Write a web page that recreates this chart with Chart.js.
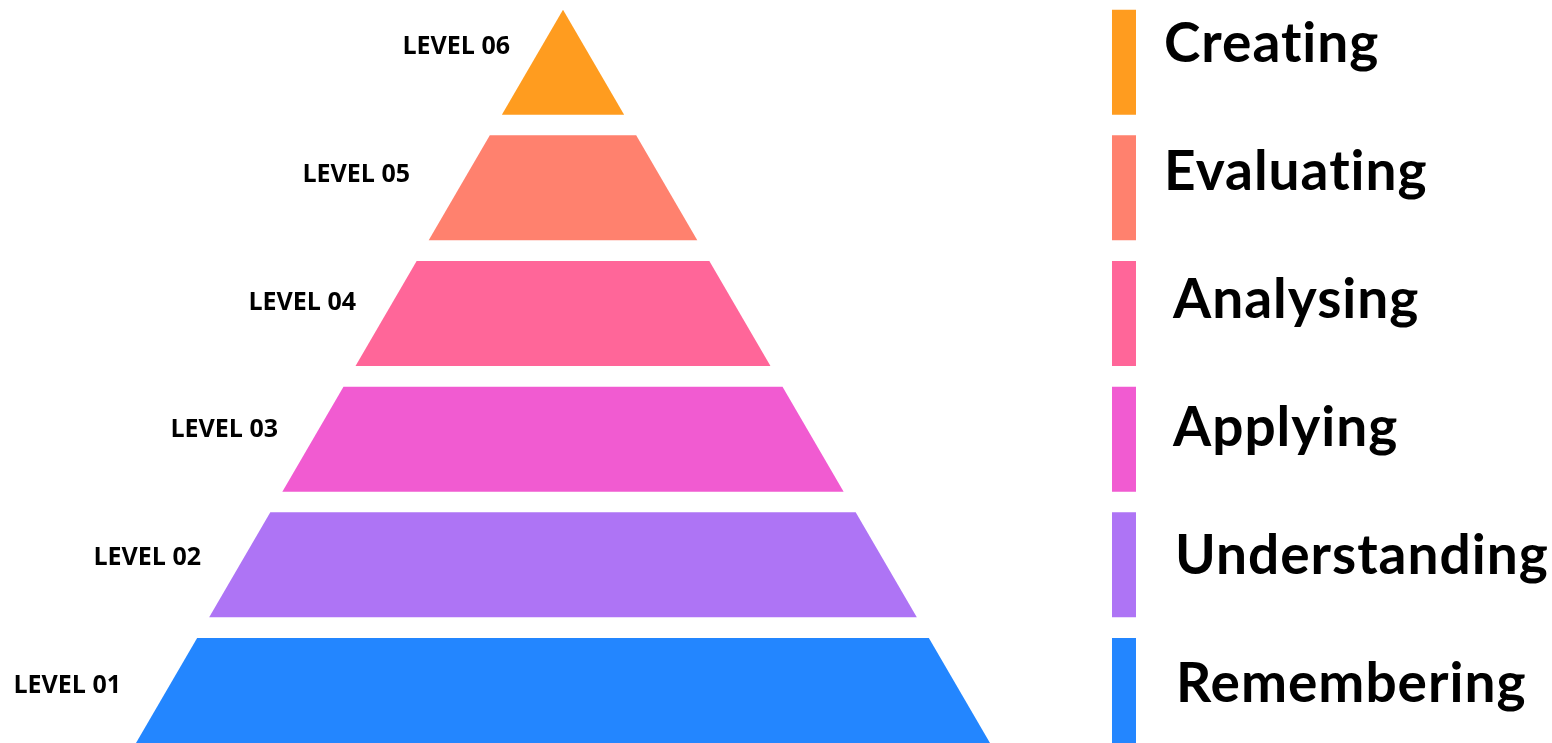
<!DOCTYPE html>
<html>
<head>
<meta charset="utf-8">
<script src="https://cdn.jsdelivr.net/npm/chart.js@4.4.1/dist/chart.umd.min.js"></script>
<style>
html, body { margin: 0; padding: 0; background: #fff; }
#wrap { width: 1552px; height: 743px; position: relative; }
</style>
</head>
<body>
<div id="wrap"><canvas id="myChart"></canvas></div>
<script>
// 下の段から順番に
const levelIndex = [0, 1, 2, 3, 4, 5];
const levelLabels = ['LEVEL 01', 'LEVEL 02', 'LEVEL 03', 'LEVEL 04', 'LEVEL 05', 'LEVEL 06'];
const stageNames = ['Remembering', 'Understanding', 'Applying', 'Analysing', 'Evaluating', 'Creating'];
const levelColors = ['#2386FF', '#AE74F5', '#F15BD1', '#FF6699', '#FF816E', '#FF9C1F'];

// 形のパラメータ
const bandHeight = 0.8355;
const apexY = levelIndex[levelIndex.length - 1] + bandHeight;
const halfWidth = y => (apexY - y) / apexY;
const barLeft = 1.2857, barRight = 1.3419;

// 文字の位置 (px)
const leftLabelRight = [121, 201, 278, 356, 410, 510];
const rightTextX = [1176, 1175, 1173, 1173, 1164, 1164];

const datasets = [];
levelIndex.forEach((lv, i) => {
    const y0 = lv, y1 = lv + bandHeight;
    // ピラミッドの台形
    datasets.push({
        data: [
            {x: -halfWidth(y0), y: y0},
            {x: halfWidth(y0), y: y0},
            {x: halfWidth(y1), y: y1},
            {x: -halfWidth(y1), y: y1},
            {x: -halfWidth(y0), y: y0}
        ],
        backgroundColor: levelColors[i],
        borderColor: levelColors[i]
    });
    // 右側のカラーバー
    datasets.push({
        data: [
            {x: barLeft, y: y0},
            {x: barRight, y: y0},
            {x: barRight, y: y1},
            {x: barLeft, y: y1},
            {x: barLeft, y: y0}
        ],
        backgroundColor: levelColors[i],
        borderColor: levelColors[i]
    });
});

const textPlugin = {
    id: 'pyramidText',
    afterDatasetsDraw(chart) {
        const ctx = chart.ctx;
        ctx.save();
        ctx.fillStyle = '#000';
        ctx.textBaseline = 'alphabetic';
        levelIndex.forEach((lv, i) => {
            const k = levelIndex.length - 1 - i; // 上からの順番
            ctx.font = 'bold 25px "Open Sans"';
            ctx.letterSpacing = '0px';
            ctx.textAlign = 'right';
            ctx.fillText(levelLabels[i], leftLabelRight[i], 54 + k * 127.8);
            ctx.font = 'bold 55px Lato';
            ctx.letterSpacing = '1px';
            ctx.textAlign = 'left';
            ctx.fillText(stageNames[i], rightTextX[i], 62 + k * 128);
        });
        ctx.restore();
    }
};

const ctx = document.getElementById('myChart').getContext('2d');
new Chart(ctx, {
    type: 'scatter',
    data: { datasets: datasets },
    options: {
        responsive: true,
        maintainAspectRatio: false,
        animation: false,
        events: [],
        layout: { padding: 0 },
        datasets: {
            scatter: {
                showLine: true,
                fill: 'shape',
                borderWidth: 0,
                pointRadius: 0,
                tension: 0
            }
        },
        plugins: {
            legend: { display: false },
            tooltip: { enabled: false }
        },
        scales: {
            x: { type: 'linear', display: false, min: -563 / 427, max: 989 / 427 },
            y: { type: 'linear', display: false, min: 0, max: 743 / 125.67 }
        }
    },
    plugins: [textPlugin]
});
</script>
</body>
</html>
